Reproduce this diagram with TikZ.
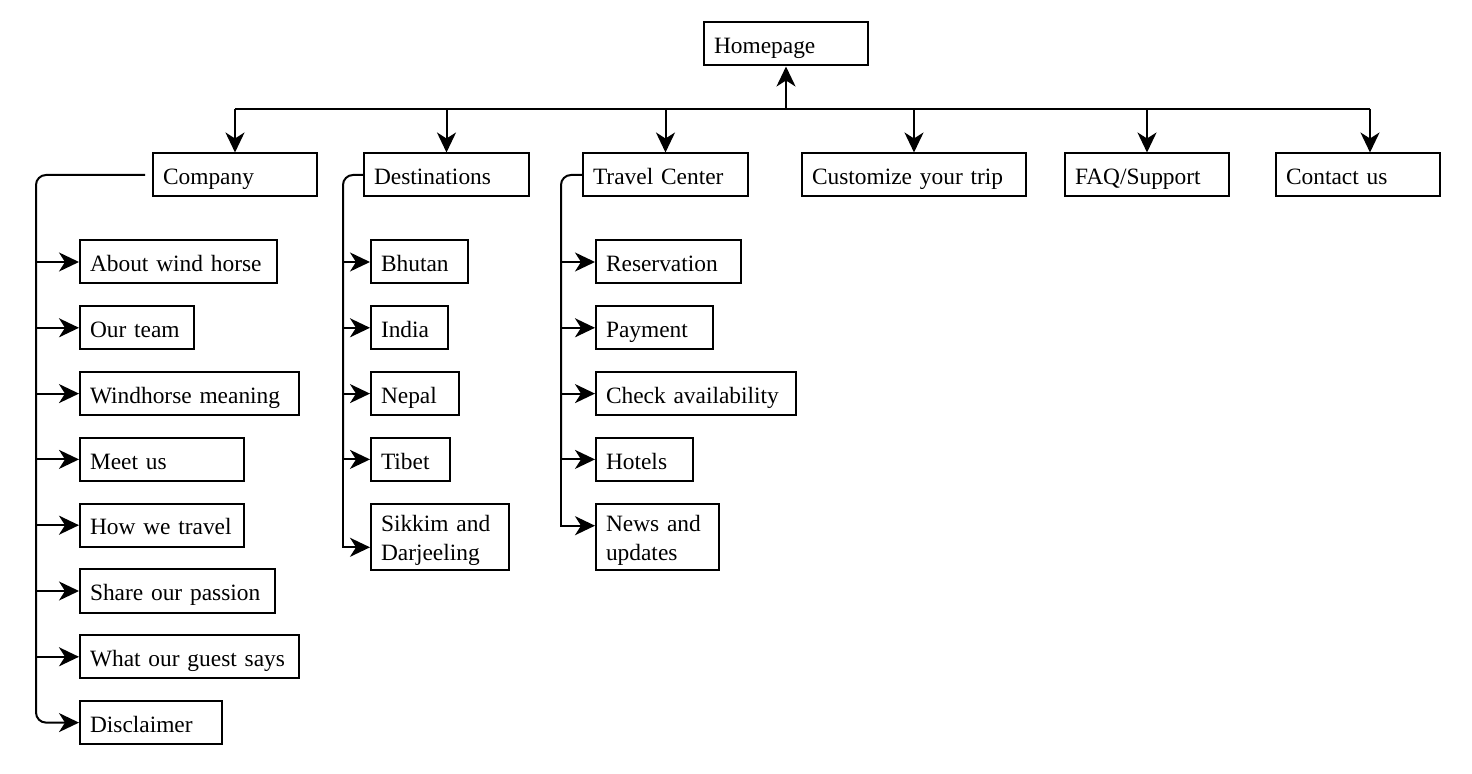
\documentclass[tikz,border=0pt]{standalone}
\usepackage{fontspec}
\setmainfont{Liberation Serif}
\usetikzlibrary{arrows.meta,positioning}

\begin{document}
\begin{tikzpicture}[x=0.5pt,y=-0.5pt,font=\fontsize{11.7}{14.5}\selectfont,node distance=10.4pt,
box/.style={draw,line width=1pt,minimum height=21.5pt,inner xsep=5pt,inner ysep=3pt,align=left,text width=#1,text height=9.7pt,text depth=0pt},
twoline/.style={text height=12pt,text depth=,inner ysep=1pt,minimum height=33pt},
arrow/.style={-{Stealth[length=10pt,width=9.5pt,inset=3pt]},line width=1pt},
trunk/.style={line width=1pt,rounded corners=5pt}]
\useasboundingbox (0,0) rectangle (1472,774);
% top level
\node[box=72pt,anchor=west](home) at (703,44){Homepage};
\node[box=72pt,anchor=west](comp) at (152,175){Company};
\node[box=72.5pt,anchor=west](dest) at (363,175){Destinations};
\node[box=72.5pt,anchor=west](trav) at (582,175){Travel Center};
\node[box=102pt,anchor=west](cust) at (801,175){Customize your trip};
\node[box=72pt,anchor=west](faq) at (1064,175){FAQ/Support};
\node[box=72pt,anchor=west](cont) at (1275,175){Contact us};
\coordinate(bus) at (786,109);
\draw[arrow](home.south |- bus)--(home.south);
\draw[line width=1pt](comp.north |- bus)-|([xshift=6pt]cont.north |- bus);
\draw[arrow](comp.north |- bus)--(comp.north);
\draw[arrow](dest.north |- bus)--(dest.north);
\draw[arrow](trav.north |- bus)--(trav.north);
\draw[arrow](cust.north |- bus)--(cust.north);
\draw[arrow](faq.north |- bus)--(faq.north);
\draw[arrow]([xshift=6pt]cont.north |- bus)--([xshift=6pt]cont.north);
% company pages
\node[box=88.5pt,anchor=west](c1) at (79,262){About wind horse};
\node[box=47pt,below=of c1.south west,anchor=north west](c2){Our team};
\node[box=99.5pt,below=of c2.south west,anchor=north west](c3){Windhorse meaning};
\node[box=72pt,below=of c3.south west,anchor=north west](c4){Meet us};
\node[box=72pt,below=of c4.south west,anchor=north west](c5){How we travel};
\node[box=87.5pt,below=of c5.south west,anchor=north west](c6){Share our passion};
\node[box=99.5pt,below=of c6.south west,anchor=north west](c7){What our guest says};
\node[box=61pt,below=of c7.south west,anchor=north west](c8){Disclaimer};
\draw[trunk,arrow]([xshift=-3.5pt]comp.west)-|([xshift=-21.5pt]c8.west)--(c8.west);
\draw[arrow]([xshift=-21.5pt]c1.west)--(c1.west);
\draw[arrow]([xshift=-21.5pt]c2.west)--(c2.west);
\draw[arrow]([xshift=-21.5pt]c3.west)--(c3.west);
\draw[arrow]([xshift=-21.5pt]c4.west)--(c4.west);
\draw[arrow]([xshift=-21.5pt]c5.west)--(c5.west);
\draw[arrow]([xshift=-21.5pt]c6.west)--(c6.west);
\draw[arrow]([xshift=-21.5pt]c7.west)--(c7.west);
% destinations
\node[box=38.5pt,anchor=west](d1) at (370,262){Bhutan};
\node[box=28.5pt,below=of d1.south west,anchor=north west](d2){India};
\node[box=34pt,below=of d2.south west,anchor=north west](d3){Nepal};
\node[box=29.5pt,below=of d3.south west,anchor=north west](d4){Tibet};
\node[box=59pt,twoline,below=of d4.south west,anchor=north west](d5){Sikkim and\\Darjeeling};
\draw[trunk](dest.west)-|([xshift=-13.5pt]d4.west);
\draw[arrow]([xshift=-13.5pt]d1.west)--(d1.west);
\draw[arrow]([xshift=-13.5pt]d2.west)--(d2.west);
\draw[arrow]([xshift=-13.5pt]d3.west)--(d3.west);
\draw[arrow]([xshift=-13.5pt]d4.west)--(d4.west);
\draw[arrow]([xshift=-13.5pt]d4.west)|-([yshift=-5.3pt]d5.west);
% travel center
\node[box=62.5pt,anchor=west](t1) at (595,262){Reservation};
\node[box=48.5pt,below=of t1.south west,anchor=north west](t2){Payment};
\node[box=90pt,below=of t2.south west,anchor=north west](t3){Check availability};
\node[box=38.5pt,below=of t3.south west,anchor=north west](t4){Hotels};
\node[box=51.5pt,twoline,below=of t4.south west,anchor=north west](t5){News and\\updates};
\draw[trunk](trav.west)-|([xshift=-17pt]t4.west);
\draw[arrow]([xshift=-17pt]t1.west)--(t1.west);
\draw[arrow]([xshift=-17pt]t2.west)--(t2.west);
\draw[arrow]([xshift=-17pt]t3.west)--(t3.west);
\draw[arrow]([xshift=-17pt]t4.west)--(t4.west);
\draw[arrow]([xshift=-17pt]t4.west)|-([yshift=5.5pt]t5.west);
\end{tikzpicture}
\end{document}
